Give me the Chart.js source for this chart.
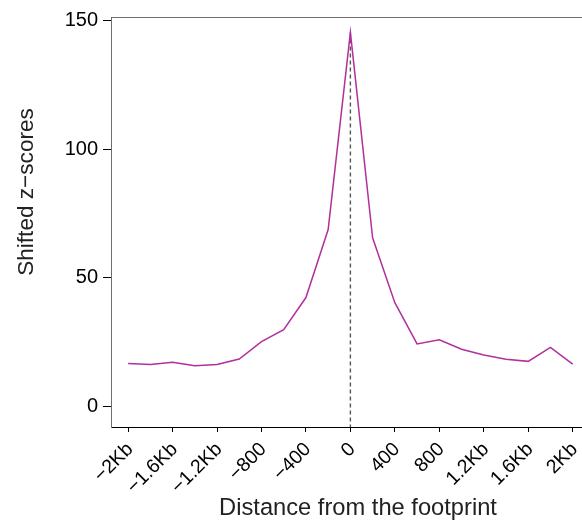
<!DOCTYPE html>
<html>
<head>
<meta charset="utf-8">
<script src="https://cdn.jsdelivr.net/npm/chart.js@4.4.1/dist/chart.umd.min.js"></script>
<style>
  html, body { margin: 0; padding: 0; background: #ffffff; }
  #wrap { width: 582px; height: 521px; position: relative; }
</style>
</head>
<body>
<div id="wrap"><canvas id="c" width="582" height="521"></canvas></div>
<script>
// ---- data ----
const positions = [-2000, -1800, -1600, -1400, -1200, -1000, -800, -600, -400, -200, 0,
                   200, 400, 600, 800, 1000, 1200, 1400, 1600, 1800, 2000];
const zScores = [16.7, 16.3, 17.2, 15.8, 16.3, 18.4, 25.2, 29.8, 42.3, 68.7, 145.3,
                 65.5, 40.3, 24.3, 25.9, 22.2, 20.0, 18.3, 17.5, 22.9, 16.4];
const xTickValues = [-2000, -1600, -1200, -800, -400, 0, 400, 800, 1200, 1600, 2000];
const xTickLabels = ["\u22122Kb", "\u22121.6Kb", "\u22121.2Kb", "\u2212800", "\u2212400", "0",
                     "400", "800", "1.2Kb", "1.6Kb", "2Kb"];
const yTickValues = [0, 50, 100, 150];
const footprintCenter = 0;
const xTitle = 'Distance from the footprint';
const yTitle = 'Shifted z\u2212scores';

const FONT = "'Liberation Sans', Arial, Helvetica, sans-serif";
const yMin = -8, yMax = 151.3;
const xMin = -2154, xMax = 2084;

const peak = zScores[positions.indexOf(footprintCenter)];

const frameAndTitles = {
  id: 'frameAndTitles',
  afterDraw(chart) {
    const {ctx, chartArea} = chart;
    ctx.save();
    ctx.strokeStyle = '#6e6e6e';
    ctx.lineWidth = 1;
    ctx.beginPath();
    ctx.moveTo(chartArea.left, Math.round(chartArea.top) + 0.5);
    ctx.lineTo(chartArea.right, Math.round(chartArea.top) + 0.5);
    ctx.stroke();

    ctx.fillStyle = '#222222';
    ctx.textAlign = 'center';
    ctx.textBaseline = 'alphabetic';
    ctx.font = "23.7px " + FONT;
    ctx.fillText(xTitle, 358, 515);

    ctx.translate(33, 192);
    ctx.rotate(-Math.PI / 2);
    ctx.font = "22.6px " + FONT;
    ctx.fillText(yTitle, 0, 0);
    ctx.restore();
  }
};

new Chart(document.getElementById('c'), {
  type: 'line',
  data: {
    datasets: [
      {
        data: positions.map((p, i) => ({x: p, y: zScores[i]})),
        borderColor: '#B2309E',
        borderWidth: 1.5,
        pointRadius: 0,
        tension: 0,
        fill: false
      },
      {
        data: [{x: footprintCenter, y: peak}, {x: footprintCenter, y: yMin}],
        borderColor: '#555555',
        borderWidth: 1.4,
        borderDash: [4, 3],
        pointRadius: 0,
        fill: false
      }
    ]
  },
  plugins: [frameAndTitles],
  options: {
    responsive: false,
    animation: false,
    layout: { padding: { top: 17, left: 0, right: 0, bottom: 0 } },
    plugins: { legend: { display: false }, tooltip: { enabled: false } },
    scales: {
      x: {
        type: 'linear',
        min: xMin,
        max: xMax,
        afterBuildTicks: (s) => { s.ticks = xTickValues.map(v => ({value: v})); },
        afterFit: (s) => { s.height = 94; s.paddingLeft = 0; s.paddingRight = 0; },
        grid: { drawOnChartArea: false, drawTicks: true, tickLength: 5, color: '#000000', lineWidth: 1 },
        border: { color: '#000000', width: 1 },
        ticks: {
          autoSkip: false,
          maxRotation: 45,
          minRotation: 45,
          padding: 6,
          labelOffset: 2,
          color: '#000000',
          font: { family: FONT, size: 19.5 },
          callback: (v) => { const i = xTickValues.indexOf(v); return i >= 0 ? xTickLabels[i] : ''; }
        },
        title: { display: false }
      },
      y: {
        type: 'linear',
        min: yMin,
        max: yMax,
        afterBuildTicks: (s) => { s.ticks = yTickValues.map(v => ({value: v})); },
        afterFit: (s) => { s.width = 111; s.paddingTop = 0; s.paddingBottom = 0; },
        grid: { drawOnChartArea: false, drawTicks: true, tickLength: 8, color: '#000000', lineWidth: 1 },
        border: { color: '#6e6e6e', width: 1 },
        ticks: {
          padding: 5,
          color: '#000000',
          font: { family: FONT, size: 20 }
        },
        title: { display: false }
      }
    }
  }
});
</script>
</body>
</html>
